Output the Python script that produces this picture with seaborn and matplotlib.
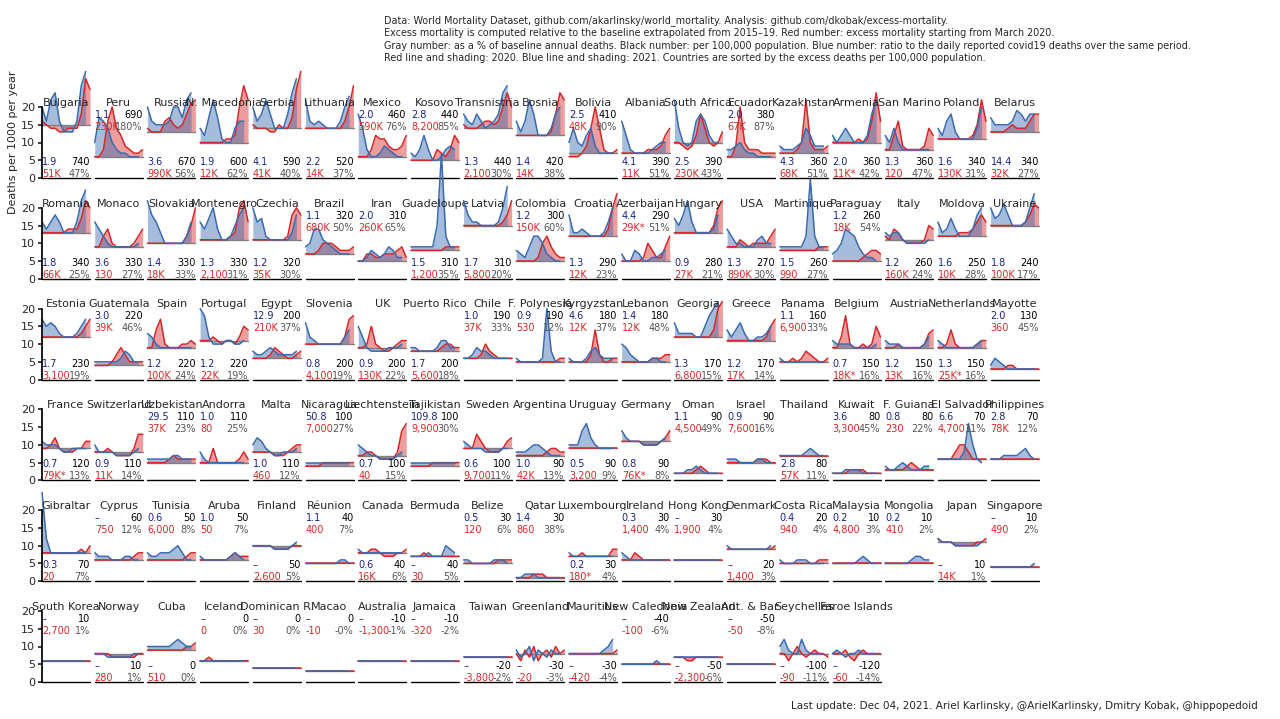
import matplotlib
matplotlib.use("Agg")
import matplotlib.pyplot as plt
import seaborn as sns

# --- panel labels -------------------------------------------------------
countries = ["Bulgaria", "Peru", "Russia", "N. Macedonia", "Serbia", "Lithuania", "Mexico", "Kosovo",
             "Transnistria", "Bosnia", "Bolivia", "Albania", "South Africa", "Ecuador", "Kazakhstan",
             "Armenia", "San Marino", "Poland", "Belarus",
             "Romania", "Monaco", "Slovakia", "Montenegro", "Czechia", "Brazil", "Iran", "Guadeloupe",
             "Latvia", "Colombia", "Croatia", "Azerbaijan", "Hungary", "USA", "Martinique", "Paraguay",
             "Italy", "Moldova", "Ukraine",
             "Estonia", "Guatemala", "Spain", "Portugal", "Egypt", "Slovenia", "UK", "Puerto Rico",
             "Chile", "F. Polynesia", "Kyrgyzstan", "Lebanon", "Georgia", "Greece", "Panama", "Belgium",
             "Austria", "Netherlands", "Mayotte",
             "France", "Switzerland", "Uzbekistan", "Andorra", "Malta", "Nicaragua", "Liechtenstein",
             "Tajikistan", "Sweden", "Argentina", "Uruguay", "Germany", "Oman", "Israel", "Thailand",
             "Kuwait", "F. Guiana", "El Salvador", "Philippines",
             "Gibraltar", "Cyprus", "Tunisia", "Aruba", "Finland", "Réunion", "Canada", "Bermuda",
             "Belize", "Qatar", "Luxembourg", "Ireland", "Hong Kong", "Denmark", "Costa Rica",
             "Malaysia", "Mongolia", "Japan", "Singapore",
             "South Korea", "Norway", "Cuba", "Iceland", "Dominican R.", "Macao", "Australia", "Jamaica",
             "Taiwan", "Greenland", "Mauritius", "New Caledonia", "New Zealand", "Ant. & Bar.",
             "Seychelles", "Faroe Islands"]

covid_ratio = ["1.9", "1.1", "3.6", "1.9", "4.1", "2.2", "2.0", "2.8", "1.3", "1.4", "2.5", "4.1", "2.5",
               "2.0", "4.3", "2.0", "1.3", "1.6", "14.4",
               "1.8", "3.6", "1.4", "1.3", "1.2", "1.1", "2.0", "1.5", "1.7", "1.2", "1.3", "4.4", "0.9",
               "1.3", "1.5", "1.2", "1.2", "1.6", "1.8",
               "1.7", "3.0", "1.2", "1.2", "12.9", "0.8", "0.9", "1.7", "1.0", "0.9", "4.6", "1.4", "1.3",
               "1.2", "1.1", "0.7", "1.2", "1.3", "2.0",
               "0.7", "0.9", "29.5", "1.0", "1.0", "50.8", "0.7", "109.8", "0.6", "1.0", "0.5", "0.8",
               "1.1", "0.9", "2.8", "3.6", "0.8", "6.6", "2.8",
               "0.3", "–", "0.6", "1.0", "–", "1.1", "0.6", "–", "0.5", "1.4", "0.2", "0.3", "–", "–",
               "0.4", "0.2", "0.2", "–", "–",
               "–", "–", "–", "–", "–", "–", "–", "–", "–", "–", "–", "–", "–", "–", "–", "–"]

per_100k = [740, 690, 670, 600, 590, 520, 460, 440, 440, 420, 410, 390, 390, 380, 360, 360, 360, 340, 340,
            340, 330, 330, 330, 320, 320, 310, 310, 310, 300, 290, 290, 280, 270, 260, 260, 260, 250, 240,
            230, 220, 220, 220, 200, 200, 200, 200, 190, 190, 180, 180, 170, 170, 160, 150, 150, 150, 130,
            120, 110, 110, 110, 110, 100, 100, 100, 100, 90, 90, 90, 90, 90, 80, 80, 80, 70, 70,
            70, 60, 50, 50, 50, 40, 40, 40, 30, 30, 30, 30, 30, 20, 20, 10, 10, 10, 10,
            10, 10, 0, 0, 0, 0, -10, -10, -20, -30, -30, -40, -50, -50, -100, -120]

excess = ["51K", "230K", "990K", "12K", "41K", "14K", "590K", "8,200", "2,100", "14K", "48K", "11K", "230K",
          "67K", "68K", "11K*", "120", "130K", "32K",
          "66K", "130", "18K", "2,100", "35K", "680K", "260K", "1,200", "5,800", "150K", "12K", "29K*",
          "27K", "890K", "990", "18K", "160K", "10K", "100K",
          "3,100", "39K", "100K", "22K", "210K", "4,100", "130K", "5,600", "37K", "530", "12K", "12K",
          "6,800", "17K", "6,900", "18K*", "13K", "25K*", "360",
          "79K*", "11K", "37K", "80", "460", "7,000", "40", "9,900", "9,700", "42K", "3,200", "76K*",
          "4,500", "7,600", "57K", "3,300", "230", "4,700", "78K",
          "20", "750", "6,000", "50", "2,600", "400", "16K", "30", "120", "860", "180*", "1,400", "1,900",
          "1,400", "940", "4,800", "410", "14K", "490",
          "2,700", "280", "510", "0", "30", "-10", "-1,300", "-320", "-3,800", "-20", "-420", "-100",
          "-2,300", "-50", "-90", "-60"]

pct = ["47%", "180%", "56%", "62%", "40%", "37%", "76%", "85%", "30%", "38%", "90%", "51%", "43%", "87%",
       "51%", "42%", "47%", "31%", "27%",
       "25%", "27%", "33%", "31%", "30%", "50%", "65%", "35%", "20%", "60%", "23%", "51%", "21%", "30%",
       "27%", "54%", "24%", "28%", "17%",
       "19%", "46%", "24%", "19%", "37%", "19%", "22%", "18%", "33%", "12%", "37%", "48%", "15%", "14%",
       "33%", "16%", "16%", "16%", "45%",
       "13%", "14%", "23%", "25%", "12%", "27%", "15%", "30%", "11%", "13%", "9%", "8%", "49%", "16%",
       "11%", "45%", "22%", "11%", "12%",
       "7%", "12%", "8%", "7%", "5%", "7%", "6%", "5%", "6%", "38%", "4%", "4%", "4%", "3%", "4%", "3%",
       "2%", "1%", "2%",
       "1%", "1%", "0%", "0%", "0%", "-0%", "-1%", "-2%", "-2%", "-3%", "-4%", "-6%", "-6%", "-8%",
       "-11%", "-14%"]

# 1 = numbers printed at the top of the panel, 0 = at the bottom
labels_on_top = [0, 1, 0, 0, 0, 0, 1, 1, 0, 0, 1, 0, 0, 1, 0, 0, 0, 0, 0,
                 0, 0, 0, 0, 0, 1, 1, 0, 0, 1, 0, 1, 0, 0, 0, 1, 0, 0, 0,
                 0, 1, 0, 0, 1, 0, 0, 0, 1, 1, 1, 1, 0, 0, 1, 0, 0, 0, 1,
                 0, 0, 1, 1, 0, 1, 0, 1, 0, 0, 0, 0, 1, 1, 0, 1, 1, 1, 1,
                 0, 1, 1, 1, 0, 1, 0, 0, 1, 1, 0, 1, 1, 0, 1, 1, 1, 0, 1,
                 1, 0, 0, 1, 1, 1, 1, 1, 0, 0, 0, 1, 0, 1, 0, 0]

# --- curves (deaths per 1000 per year, monthly) --------------------------
months_2020 = [0, 1, 2, 3, 4, 5, 6, 7, 8, 9, 10, 11]
months_2021 = [0, 1, 2, 3, 4, 5, 6, 7, 8, 9, 10]

baseline = [15, 6, 13, 10, 14, 14, 6, 5, 14, 12, 7, 7, 10, 6, 7, 10, 8, 11, 13,
            13, 9, 10, 11, 11, 7, 5, 8, 15, 5, 12, 5, 13, 9, 8, 5, 11, 12, 15,
            12, 4, 9, 11, 6, 10, 9, 8, 6, 5, 5, 5, 12, 11, 5, 9, 9, 9, 3,
            9, 8, 5, 5, 8, 4, 7, 4, 9, 7, 9, 11, 2, 5, 7, 2, 3, 6, 6,
            8, 6, 6, 6, 10, 5, 8, 7, 5, 1, 7, 6, 6, 9, 5, 5, 5, 11, 4,
            6, 8, 9, 6, 4, 3, 6, 6, 7, 8, 8, 5, 7, 5, 8, 8]

red_2020 = [
    [16, 15, 14, 14, 13, 13, 14, 14, 14, 18, 28, 25], [6, 6, 8, 16, 20, 14, 12, 9, 8, 7, 7, 8],
    [14, 13, 13, 13, 16, 17, 15, 14, 15, 18, 21, 22], [10, 10, 10, 10, 10, 10, 11, 11, 12, 20, 26, 22],
    [15, 14, 14, 14, 13, 13, 15, 14, 14, 17, 25, 30], [14, 14, 14, 14, 14, 14, 14, 14, 14, 16, 20, 26],
    [6, 6, 6, 8, 12, 11, 11, 9, 8, 8, 9, 12], [5, 5, 5, 5, 5, 5, 8, 7, 6, 8, 12, 10],
    [15, 14, 14, 14, 15, 16, 16, 15, 16, 20, 24, 20], [12, 12, 12, 12, 12, 12, 12, 12, 13, 18, 24, 22],
    [6, 6, 6, 7, 9, 14, 20, 14, 8, 7, 7, 8], [7, 7, 7, 7, 7, 7, 8, 8, 8, 9, 12, 14],
    [10, 10, 9, 8, 9, 12, 18, 14, 10, 9, 10, 13], [6, 6, 9, 20, 10, 8, 8, 8, 7, 7, 7, 7],
    [7, 7, 7, 7, 8, 10, 22, 10, 8, 8, 8, 9], [10, 10, 10, 10, 10, 10, 11, 10, 11, 16, 24, 16],
    [8, 8, 12, 16, 9, 8, 8, 8, 8, 9, 14, 12], [11, 11, 11, 11, 11, 11, 11, 11, 12, 15, 22, 16],
    [13, 13, 13, 13, 14, 15, 14, 14, 14, 16, 18, 18],
    [13, 13, 13, 13, 13, 13, 14, 14, 14, 17, 22, 20], [9, 9, 12, 14, 10, 9, 9, 9, 9, 10, 12, 14],
    [10, 10, 10, 10, 10, 10, 10, 10, 10, 12, 15, 20], [11, 11, 11, 11, 11, 11, 11, 12, 13, 20, 22, 16],
    [11, 11, 11, 11, 11, 11, 11, 11, 12, 18, 20, 18], [7, 7, 7, 8, 10, 10, 10, 9, 8, 8, 8, 9],
    [5, 5, 7, 7, 6, 6, 7, 7, 7, 8, 9, 6], [8, 8, 8, 8, 8, 8, 8, 8, 9, 9, 9, 9],
    [15, 15, 15, 15, 15, 15, 15, 15, 15, 16, 18, 22], [5, 5, 5, 5, 5, 6, 10, 12, 9, 7, 6, 6],
    [12, 12, 12, 12, 12, 12, 12, 12, 12, 14, 20, 24], [5, 5, 5, 5, 5, 6, 10, 8, 6, 6, 9, 12],
    [13, 13, 13, 13, 13, 13, 13, 13, 13, 15, 20, 22], [9, 9, 9, 11, 10, 9, 10, 10, 10, 10, 12, 14],
    [8, 8, 8, 8, 8, 8, 8, 8, 8, 9, 9, 9], [5, 5, 5, 5, 5, 5, 5, 6, 7, 8, 8, 7],
    [12, 11, 14, 13, 11, 10, 10, 10, 10, 11, 15, 14], [12, 12, 12, 12, 12, 13, 13, 13, 14, 16, 18, 16],
    [15, 15, 15, 15, 15, 15, 15, 15, 16, 18, 21, 20],
    [12, 12, 12, 12, 12, 12, 12, 12, 12, 13, 15, 17], [4, 4, 4, 4, 5, 7, 9, 7, 5, 5, 5, 5],
    [9, 9, 14, 17, 10, 9, 9, 9, 10, 10, 11, 10], [11, 11, 11, 12, 11, 10, 11, 11, 10, 12, 15, 14],
    [6, 6, 6, 6, 7, 9, 8, 7, 6, 6, 7, 8], [10, 10, 10, 10, 10, 10, 10, 10, 10, 12, 17, 18],
    [9, 9, 10, 15, 10, 9, 8, 8, 9, 10, 11, 11], [8, 8, 8, 8, 8, 8, 8, 9, 10, 10, 9, 9],
    [6, 6, 6, 6, 7, 10, 8, 7, 6, 6, 6, 6], [5, 5, 5, 5, 5, 5, 5, 5, 5, 5, 6, 6],
    [5, 5, 5, 5, 5, 7, 14, 7, 5, 5, 6, 6], [5, 5, 5, 5, 5, 5, 5, 6, 6, 6, 7, 7],
    [12, 12, 12, 12, 12, 12, 12, 12, 12, 14, 20, 22], [11, 11, 11, 11, 11, 11, 11, 11, 11, 12, 15, 17],
    [5, 5, 5, 6, 5, 6, 8, 7, 6, 5, 5, 6], [9, 9, 12, 18, 10, 9, 9, 10, 9, 10, 15, 12],
    [9, 9, 9, 10, 9, 9, 9, 9, 9, 10, 13, 14], [9, 9, 10, 14, 10, 9, 9, 9, 9, 10, 11, 11],
    [3, 3, 3, 3, 4, 4, 3, 3, 3, 3, 3, 3],
    [9, 9, 10, 12, 9, 8, 8, 8, 9, 9, 11, 11], [8, 8, 8, 9, 8, 7, 7, 7, 7, 9, 13, 13],
    [5, 5, 5, 5, 5, 6, 7, 6, 6, 6, 6, 6], [5, 5, 5, 9, 5, 5, 5, 5, 5, 6, 8, 6],
    [8, 8, 8, 8, 8, 7, 7, 7, 8, 9, 10, 10], [4, 4, 4, 4, 5, 5, 5, 5, 5, 5, 5, 5],
    [7, 7, 8, 8, 7, 6, 6, 6, 6, 8, 14, 16], [4, 4, 4, 4, 4, 5, 5, 5, 5, 5, 5, 5],
    [9, 9, 9, 13, 11, 9, 8, 8, 8, 9, 11, 12], [7, 7, 7, 7, 7, 7, 7, 8, 9, 9, 8, 8],
    [9, 9, 9, 9, 9, 9, 9, 9, 9, 9, 9, 9], [11, 11, 11, 11, 11, 10, 10, 10, 10, 11, 12, 14],
    [2, 2, 2, 2, 2, 3, 4, 3, 2, 2, 2, 2], [5, 5, 5, 5, 5, 5, 5, 6, 6, 6, 5, 5],
    [7, 7, 7, 7, 7, 7, 7, 7, 7, 7, 7, 7], [2, 2, 2, 2, 3, 3, 3, 3, 2, 2, 2, 2],
    [3, 3, 3, 3, 3, 4, 5, 4, 3, 3, 3, 3], [6, 6, 6, 6, 8, 10, 10, 8, 6, 6, 6, 6],
    [6, 6, 6, 6, 6, 6, 6, 6, 6, 6, 6, 6],
    [8, 8, 8, 8, 8, 8, 8, 8, 8, 9, 8, 10], [6, 6, 6, 6, 6, 6, 6, 6, 6, 7, 8, 8],
    [6, 6, 6, 6, 6, 6, 6, 6, 6, 7, 8, 8], [6, 6, 6, 6, 6, 6, 6, 7, 8, 7, 7, 7],
    [10, 10, 10, 10, 10, 9, 9, 9, 9, 10, 10, 10], [5, 5, 5, 5, 5, 5, 5, 5, 5, 5, 5, 5],
    [8, 8, 8, 9, 9, 8, 7, 7, 7, 8, 8, 9], [7, 7, 7, 8, 7, 7, 7, 7, 7, 7, 7, 7],
    [5, 5, 5, 5, 5, 5, 5, 5, 6, 6, 6, 6], [1, 1, 1, 1, 2, 2, 2, 1, 1, 1, 1, 1],
    [7, 7, 7, 8, 7, 7, 7, 7, 7, 7, 9, 9], [6, 6, 6, 8, 7, 6, 6, 6, 6, 6, 6, 6],
    [6, 6, 6, 6, 6, 6, 6, 6, 6, 6, 6, 6], [9, 9, 9, 9, 9, 9, 9, 9, 9, 9, 9, 10],
    [5, 5, 5, 5, 5, 5, 5, 5, 5, 6, 6, 6], [5, 5, 5, 5, 5, 5, 5, 5, 5, 5, 5, 5],
    [5, 5, 5, 5, 5, 5, 5, 5, 5, 5, 5, 5], [12, 11, 11, 11, 10, 10, 10, 10, 10, 11, 11, 12],
    [4, 4, 4, 4, 4, 4, 4, 4, 4, 4, 4, 4],
    [6, 6, 6, 6, 6, 6, 6, 6, 6, 6, 6, 6], [8, 8, 8, 8, 7, 7, 7, 7, 7, 7, 8, 8],
    [9, 9, 9, 9, 9, 9, 9, 9, 9, 10, 10, 11], [6, 6, 7, 6, 6, 6, 6, 6, 6, 6, 6, 6],
    [4, 4, 4, 4, 4, 4, 4, 4, 4, 4, 4, 4], [3, 3, 3, 3, 3, 3, 3, 3, 3, 3, 3, 3],
    [6, 6, 6, 6, 6, 6, 6, 6, 6, 6, 6, 6], [6, 6, 6, 6, 6, 6, 6, 6, 6, 6, 6, 6],
    [7, 7, 7, 7, 7, 7, 7, 7, 7, 7, 7, 7], [8, 6, 9, 7, 10, 6, 8, 9, 7, 10, 8, 9],
    [8, 8, 8, 8, 8, 8, 8, 8, 8, 8, 8, 9], [5, 5, 5, 5, 5, 5, 5, 5, 5, 5, 5, 5],
    [7, 7, 7, 6, 6, 7, 7, 7, 7, 7, 7, 7], [5, 5, 5, 5, 5, 5, 5, 5, 5, 5, 5, 5],
    [8, 8, 6, 8, 10, 8, 7, 8, 9, 8, 8, 7], [8, 8, 8, 9, 7, 6, 8, 9, 8, 8, 8, 8],
]

blue_2021 = [
    [20, 16, 22, 24, 16, 13, 13, 13, 16, 26, 30], [10, 17, 16, 14, 10, 8, 7, 7, 6, 6, 6],
    [20, 16, 15, 15, 15, 16, 20, 20, 17, 22, 24], [14, 12, 17, 22, 17, 11, 10, 10, 14, 16, 16],
    [20, 16, 18, 22, 18, 14, 14, 14, 18, 24, 28], [22, 16, 15, 16, 15, 14, 14, 14, 16, 20, 23],
    [18, 14, 8, 6, 6, 7, 9, 8, 7, 6, 6], [7, 6, 8, 12, 8, 5, 5, 6, 8, 9, 8],
    [18, 16, 15, 18, 16, 14, 15, 16, 18, 24, 26], [16, 13, 16, 22, 18, 12, 12, 12, 14, 18, 20],
    [10, 14, 10, 9, 12, 14, 9, 7, 7, 7, 7], [16, 12, 8, 7, 7, 7, 7, 8, 9, 10, 10],
    [22, 14, 10, 9, 10, 16, 18, 16, 12, 10, 10], [8, 8, 9, 10, 8, 7, 7, 6, 6, 6, 6],
    [9, 8, 8, 8, 9, 10, 14, 12, 9, 9, 9], [12, 10, 12, 14, 12, 10, 10, 10, 12, 18, 22],
    [12, 10, 14, 10, 8, 8, 8, 8, 8, 8, 8], [14, 12, 16, 18, 13, 11, 11, 11, 11, 14, 20],
    [17, 15, 15, 15, 15, 16, 19, 18, 16, 18, 18],
    [16, 14, 16, 18, 16, 13, 13, 13, 16, 22, 25], [16, 14, 12, 10, 9, 9, 9, 9, 9, 9, 10],
    [22, 18, 16, 13, 10, 10, 10, 10, 10, 12, 16], [16, 14, 17, 20, 14, 11, 11, 12, 15, 18, 20],
    [20, 16, 17, 12, 11, 11, 11, 11, 11, 13, 18], [9, 10, 14, 14, 11, 10, 9, 8, 7, 7, 7],
    [5, 5, 6, 8, 7, 6, 7, 9, 8, 6, 6], [9, 9, 9, 9, 9, 9, 15, 35, 12, 9, 9],
    [22, 18, 16, 16, 15, 15, 15, 15, 16, 20, 26], [8, 7, 6, 9, 12, 12, 10, 7, 6, 5, 5],
    [18, 13, 13, 14, 13, 12, 12, 12, 13, 16, 20], [7, 5, 5, 8, 7, 5, 5, 6, 6, 7, 8],
    [17, 15, 18, 22, 16, 13, 13, 13, 13, 14, 18], [14, 12, 10, 10, 9, 9, 9, 11, 12, 10, 10],
    [9, 9, 9, 9, 9, 9, 12, 28, 12, 9, 9], [7, 8, 10, 14, 13, 12, 9, 7, 6, 6, 5],
    [13, 12, 13, 13, 11, 10, 10, 10, 10, 10, 11], [16, 13, 14, 17, 14, 12, 12, 12, 14, 18, 20],
    [20, 17, 18, 21, 18, 15, 15, 15, 16, 20, 24],
    [17, 15, 16, 15, 13, 12, 12, 12, 13, 15, 17], [5, 5, 5, 5, 5, 5, 6, 8, 7, 5, 5],
    [13, 12, 10, 9, 9, 9, 9, 9, 9, 9, 9], [20, 18, 12, 10, 10, 10, 11, 11, 10, 10, 11],
    [8, 7, 7, 8, 9, 8, 7, 7, 7, 7, 8], [16, 12, 11, 10, 10, 10, 10, 10, 10, 12, 14],
    [15, 12, 9, 8, 8, 8, 8, 9, 9, 9, 10], [9, 9, 8, 8, 8, 8, 9, 11, 11, 9, 9],
    [6, 6, 7, 9, 8, 8, 7, 6, 6, 6, 6], [6, 5, 5, 5, 5, 5, 6, 20, 8, 5, 5],
    [6, 5, 5, 5, 6, 8, 9, 7, 6, 6, 6], [10, 9, 7, 6, 5, 5, 5, 6, 6, 5, 5],
    [16, 13, 13, 13, 13, 12, 12, 15, 18, 20, 22], [14, 12, 14, 16, 13, 11, 11, 12, 12, 13, 15],
    [6, 5, 5, 5, 5, 5, 5, 5, 5, 5, 5], [11, 10, 10, 10, 10, 9, 9, 9, 9, 9, 10],
    [11, 10, 10, 10, 9, 9, 9, 9, 9, 10, 12], [11, 10, 9, 9, 9, 9, 9, 9, 9, 10, 11],
    [4, 6, 5, 4, 3, 3, 3, 3, 3, 3, 3],
    [11, 10, 10, 10, 9, 8, 8, 9, 9, 9, 9], [10, 8, 8, 8, 8, 7, 7, 7, 7, 8, 9],
    [6, 6, 6, 6, 6, 6, 7, 7, 6, 6, 6], [8, 6, 5, 5, 5, 5, 5, 5, 5, 5, 5],
    [10, 12, 11, 9, 8, 7, 7, 8, 8, 8, 9], [5, 5, 5, 5, 5, 5, 5, 5, 5, 5, 5],
    [10, 9, 8, 7, 7, 6, 6, 6, 6, 7, 8], [5, 5, 5, 5, 5, 5, 5, 5, 5, 5, 5],
    [11, 10, 9, 9, 9, 8, 8, 8, 8, 9, 9], [8, 8, 8, 9, 10, 10, 9, 8, 7, 7, 7],
    [10, 10, 10, 14, 16, 12, 10, 9, 9, 9, 9], [14, 12, 11, 11, 11, 10, 10, 10, 10, 11, 12],
    [2, 2, 2, 3, 3, 4, 3, 2, 2, 2, 2], [6, 6, 6, 5, 5, 5, 5, 6, 6, 5, 5],
    [7, 7, 7, 7, 7, 7, 8, 9, 8, 7, 7], [2, 2, 2, 3, 3, 3, 3, 2, 2, 2, 2],
    [4, 3, 3, 4, 5, 4, 3, 3, 3, 4, 4], [6, 6, 6, 6, 6, 6, 8, 16, 10, 6, 5],
    [6, 6, 6, 7, 7, 7, 7, 8, 9, 7, 6],
    [25, 12, 8, 8, 8, 8, 8, 8, 8, 8, 8], [8, 7, 7, 7, 6, 6, 6, 7, 7, 6, 6],
    [8, 7, 7, 8, 8, 8, 9, 10, 8, 6, 6], [7, 6, 6, 6, 6, 6, 6, 7, 8, 7, 6],
    [10, 10, 10, 10, 10, 9, 9, 9, 9, 10, 11], [5, 5, 5, 5, 5, 5, 5, 5, 6, 6, 5],
    [9, 8, 8, 8, 8, 8, 8, 8, 8, 8, 8], [7, 7, 7, 7, 8, 7, 7, 7, 10, 9, 8],
    [6, 6, 5, 5, 5, 5, 5, 6, 6, 6, 5], [1, 1, 2, 2, 2, 1, 1, 1, 1, 1, 1],
    [8, 7, 7, 7, 7, 7, 7, 7, 7, 7, 7], [8, 7, 6, 6, 6, 6, 6, 6, 6, 6, 6],
    [6, 6, 6, 6, 6, 6, 6, 6, 6, 6, 6], [10, 9, 9, 9, 9, 9, 9, 9, 9, 9, 10],
    [6, 5, 5, 5, 6, 6, 6, 5, 5, 5, 5], [5, 5, 5, 5, 5, 5, 6, 7, 6, 5, 5],
    [5, 5, 5, 5, 5, 5, 6, 7, 7, 6, 6], [12, 11, 11, 11, 10, 10, 10, 10, 10, 10, 11],
    [4, 4, 4, 4, 4, 4, 4, 4, 4, 4, 5],
    [6, 6, 6, 6, 6, 6, 6, 6, 6, 6, 6], [8, 8, 8, 7, 7, 7, 7, 7, 7, 8, 8],
    [10, 10, 10, 10, 10, 10, 11, 12, 11, 10, 10], [6, 6, 6, 6, 6, 6, 6, 6, 6, 6, 6],
    [4, 4, 4, 4, 4, 4, 4, 4, 4, 4, 4], [3, 3, 3, 3, 3, 3, 3, 3, 3, 3, 3],
    [6, 6, 6, 6, 6, 6, 6, 6, 6, 6, 6], [6, 6, 6, 6, 6, 6, 6, 6, 6, 6, 6],
    [7, 7, 7, 7, 7, 7, 7, 7, 7, 7, 7], [9, 7, 8, 10, 6, 9, 8, 7, 9, 8, 8],
    [8, 8, 8, 8, 8, 8, 8, 8, 9, 10, 12], [5, 5, 5, 5, 5, 5, 5, 5, 6, 5, 5],
    [7, 7, 7, 7, 7, 7, 7, 7, 7, 7, 7], [5, 5, 5, 5, 5, 5, 5, 5, 5, 5, 5],
    [10, 12, 9, 8, 8, 12, 9, 8, 8, 8, 8], [8, 9, 8, 7, 8, 8, 9, 8, 8, 8, 8],
]

header = ("Data: World Mortality Dataset, github.com/akarlinsky/world_mortality. Analysis: github.com/dkobak/excess-mortality.\n"
          "Excess mortality is computed relative to the baseline extrapolated from 2015–19. Red number: excess mortality starting from March 2020.\n"
          "Gray number: as a % of baseline annual deaths. Black number: per 100,000 population. Blue number: ratio to the daily reported covid19 deaths over the same period.\n"
          "Red line and shading: 2020. Blue line and shading: 2021. Countries are sorted by the excess deaths per 100,000 population.")
footer = "Last update: Dec 04, 2021. Ariel Karlinsky, @ArielKarlinsky, Dmitry Kobak, @hippopedoid"

RED = "#d62728"
BLUE = "#3a6bb0"
NAVY = "#1a237e"

sns.set_theme(style="white")
plt.rcParams["font.family"] = ["DejaVu Sans"]

fig = plt.figure(figsize=(12.8, 7.19), dpi=100)
W, H = 1280, 719

for i, name in enumerate(countries):
    r, c = divmod(i, 19)
    left = (42 + c * 52.7) / W
    bottom = (H - (178 + r * 100.8)) / H
    ax = fig.add_axes([left, bottom, 48 / W, 71 / H])

    base = [baseline[i]] * 12
    ax.plot(months_2020, base, color="gray", lw=1)
    ax.fill_between(months_2020, base, red_2020[i], color=RED, alpha=0.45, lw=0, clip_on=False)
    ax.fill_between(months_2021, base[:11], blue_2021[i], color=BLUE, alpha=0.45, lw=0, clip_on=False)
    sns.lineplot(x=months_2020, y=red_2020[i], ax=ax, color=RED, lw=1.1)
    sns.lineplot(x=months_2021, y=blue_2021[i], ax=ax, color=BLUE, lw=1.1)
    for ln in ax.lines:
        ln.set_clip_on(False)

    ax.set_xlim(0, 11)
    ax.set_ylim(0, 20)
    ax.axhline(0, color="black", lw=1, clip_on=False)
    for s in ax.spines.values():
        s.set_visible(False)
    ax.set_xticks([])
    if c == 0:
        ax.spines["left"].set_visible(True)
        ax.spines["left"].set_color("black")
        ax.set_yticks([0, 5, 10, 15, 20])
        ax.tick_params(axis="y", labelsize=8, length=3, left=True, pad=2)
    else:
        ax.set_yticks([])
    if i == 0:
        ax.set_ylabel("Deaths per 1000 per year", fontsize=8, labelpad=2)
    ax.set_xlabel("")

    ax.text(0.5, 1.06, name, transform=ax.transAxes, ha="center", va="center", fontsize=8)
    y1, y2 = (0.89, 0.72) if labels_on_top[i] else (0.225, 0.056)
    ax.text(0.0, y1, covid_ratio[i], transform=ax.transAxes, ha="left", va="center", fontsize=7, color=NAVY)
    ax.text(1.0, y1, str(per_100k[i]), transform=ax.transAxes, ha="right", va="center", fontsize=7, color="black")
    ax.text(0.0, y2, excess[i], transform=ax.transAxes, ha="left", va="center", fontsize=7, color=RED)
    ax.text(1.0, y2, pct[i], transform=ax.transAxes, ha="right", va="center", fontsize=7, color="#555555")

fig.text(384 / W, 1 - 15 / H, header, ha="left", va="top", fontsize=6.9, linespacing=1.3)
fig.text(1258 / W, 1 - 711 / H, footer, ha="right", va="bottom", fontsize=7.5)

fig.savefig("out.png", dpi=100)
